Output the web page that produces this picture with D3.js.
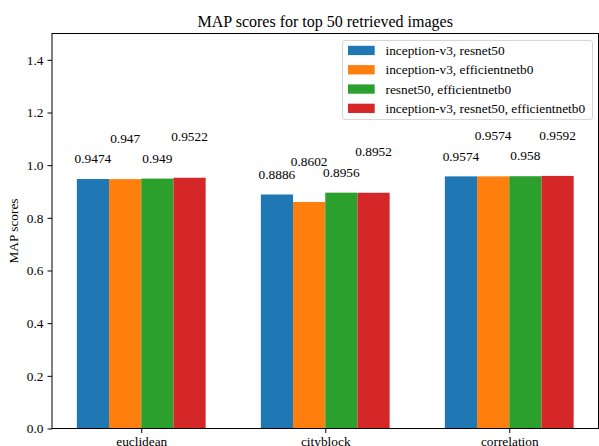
<!DOCTYPE html>
<html>
<head>
<meta charset="utf-8">
<script src="https://cdn.jsdelivr.net/npm/d3@7"></script>
<style>
  html, body { margin: 0; padding: 0; background: #fff; }
  svg { display: block; font-family: "Liberation Serif", "Times New Roman", serif; }
</style>
</head>
<body>
<svg id="chart" width="599" height="446"></svg>
<script>
// Distance metrics on the x axis
const categories = ["euclidean", "cityblock", "correlation"];
// Feature-combination series
const seriesNames = [
  "inception-v3, resnet50",
  "inception-v3, efficientnetb0",
  "resnet50, efficientnetb0",
  "inception-v3, resnet50, efficientnetb0"
];
const seriesColors = ["#1f77b4", "#ff7f0e", "#2ca02c", "#d62728"];
// MAP per series, one value per category
const invRes = [0.9474, 0.8886, 0.9574];
const invEff = [0.947, 0.8602, 0.9574];
const resEff = [0.949, 0.8956, 0.958];
const allThree = [0.9522, 0.8952, 0.9592];
const yTicks = [0.0, 0.2, 0.4, 0.6, 0.8, 1.0, 1.2, 1.4];

const seriesValues = [invRes, invEff, resEff, allThree];

const svg = d3.select("#chart");
const plotL = 52, plotR = 598.5, plotT = 33.5, plotB = 428.5;
const barW = 0.175;              // bar width in category units
const labelLift = [0.06, 0.138]; // alternating label heights above the bar

// Continuous x in category units, with matplotlib-like margins
const x = d3.scaleLinear().domain([-0.485, 2.485]).range([plotL, plotR]);
const y = d3.scaleLinear().domain([0, 1.5]).range([plotB, plotT]);

// Bars
seriesValues.forEach((vals, s) => {
  const off = (s - 1.5) * barW;
  const g = svg.append("g");
  g.selectAll("rect").data(vals).join("rect")
    .attr("x", (d, i) => x(i + off - barW / 2))
    .attr("width", x(barW) - x(0))
    .attr("y", d => y(d))
    .attr("height", d => y(0) - y(d))
    .attr("fill", seriesColors[s]);
  g.selectAll("text").data(vals).join("text")
    .attr("x", (d, i) => x(i + off))
    .attr("y", d => y(d + labelLift[s % 2]))
    .attr("text-anchor", "middle")
    .attr("font-size", "13.33px")
    .attr("fill", "#000")
    .text(d => String(d));
});

// Y axis
const yAxis = d3.axisLeft(y).tickValues(yTicks).tickFormat(d3.format(".1f")).tickSize(4.5).tickPadding(4);
const gy = svg.append("g").attr("transform", `translate(${plotL},0)`).call(yAxis);
gy.select(".domain").remove();
gy.selectAll("text").attr("font-size", "13.33px").attr("font-family", "Liberation Serif").attr("fill", "#000");
gy.selectAll("line").attr("stroke", "#000");

// X axis
const xAxis = d3.axisBottom(x).tickValues(d3.range(categories.length)).tickFormat(i => categories[i]).tickSize(4.5).tickPadding(4);
const gx = svg.append("g").attr("transform", `translate(0,${plotB})`).call(xAxis);
gx.select(".domain").remove();
gx.selectAll("text").attr("font-size", "13.33px").attr("font-family", "Liberation Serif").attr("fill", "#000");
gx.selectAll("line").attr("stroke", "#000");

// Frame
svg.append("rect")
  .attr("x", plotL).attr("y", plotT)
  .attr("width", plotR - plotL).attr("height", plotB - plotT)
  .attr("fill", "none").attr("stroke", "#000").attr("stroke-width", 1);

// Title
svg.append("text")
  .attr("x", (plotL + plotR) / 2).attr("y", 27)
  .attr("text-anchor", "middle").attr("font-size", "16px")
  .text("MAP scores for top 50 retrieved images");

// Y label
svg.append("text")
  .attr("transform", `translate(18,${(plotT + plotB) / 2}) rotate(-90)`)
  .attr("text-anchor", "middle").attr("font-size", "13.33px")
  .text("MAP scores");

// Legend
const lg = svg.append("g").attr("transform", "translate(342,40)");
lg.append("rect")
  .attr("x", 0.5).attr("y", 0.5).attr("width", 250).attr("height", 79)
  .attr("rx", 2.5).attr("fill", "#fff").attr("fill-opacity", 0.8)
  .attr("stroke", "#d6d6d6");
seriesNames.forEach((name, i) => {
  const cy = 10.5 + i * 19.3;
  lg.append("rect").attr("x", 6).attr("y", cy - 4.7).attr("width", 26.7).attr("height", 9.3)
    .attr("fill", seriesColors[i]);
  lg.append("text").attr("x", 43.5).attr("y", cy + 4.6)
    .attr("font-size", "13.33px").text(name);
});
</script>
</body>
</html>
